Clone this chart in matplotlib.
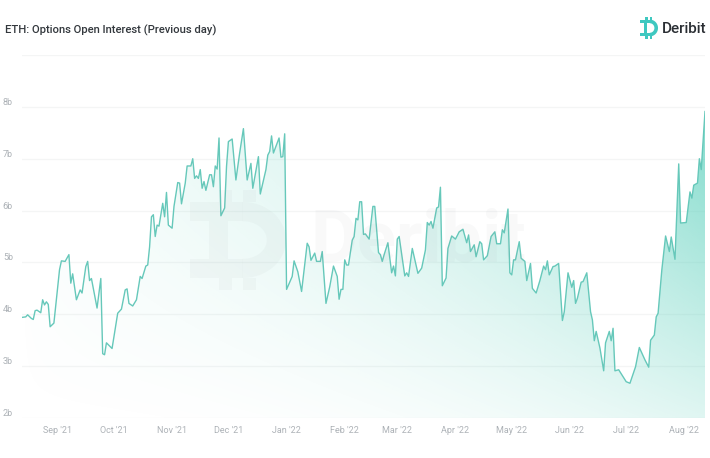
"""ETH options open interest, Deribit style area chart."""
import matplotlib
matplotlib.use("Agg")
import matplotlib.dates as mdates
import matplotlib.pyplot as plt
import numpy as np
import pandas as pd
from matplotlib.patches import Rectangle

START = "2021-08-13"
days = [
    0, 2, 3, 5, 6, 7, 8, 10, 11, 12, 13, 14, 15, 17, 18, 20, 21, 23, 25, 26,
    27, 29, 31, 32, 34, 35, 36, 37, 40, 42, 43, 44, 45, 48, 51, 53, 55, 56, 57, 59,
    61, 63, 64, 66, 67, 68, 69, 70, 71, 72, 73, 75, 76, 77, 78, 80, 81, 83, 84, 85,
    87, 88, 90, 91, 92, 93, 94, 95, 96, 97, 98, 100, 101, 102, 103, 104, 105, 106, 108, 109,
    110, 112, 114, 116, 118, 120, 122, 123, 126, 127, 130, 131, 132, 133, 134, 137, 138, 139, 140, 141,
    144, 145, 147, 149, 152, 153, 154, 156, 157, 159, 160, 162, 164, 166, 168, 169, 170, 171, 172, 173,
    174, 176, 177, 178, 179, 180, 181, 182, 183, 185, 187, 188, 190, 191, 192, 193, 195, 197, 198, 199,
    200, 201, 204, 205, 206, 208, 211, 213, 215, 216, 217, 218, 219, 221, 222, 223, 224, 226, 227, 229,
    231, 233, 235, 237, 238, 239, 241, 242, 244, 245, 246, 248, 250, 252, 253, 255, 256, 257, 259, 260,
    261, 262, 263, 265, 266, 268, 269, 271, 272, 274, 276, 278, 279, 280, 281, 283, 284, 286, 288, 289,
    291, 293, 294, 295, 296, 298, 299, 301, 303, 304, 305, 306, 308, 310, 311, 313, 314, 315, 316, 318,
    322, 324, 327, 329, 332, 334, 335, 337, 338, 339, 341, 343, 345, 346, 348, 350, 351, 354, 356, 357,
    358, 360, 361, 362, 364,
]
open_interest = [
    3.94, 3.95, 3.99, 3.92, 3.90, 4.07, 4.08, 4.03, 4.28, 4.18, 4.24, 4.19, 3.76, 3.83, 4.18, 4.86, 5.03, 5.02, 5.15, 4.60,
    4.78, 4.28, 4.47, 4.41, 4.92, 5.02, 4.65, 4.69, 4.12, 4.69, 3.24, 3.22, 3.45, 3.34, 4.02, 4.10, 4.47, 4.49, 4.21, 4.16,
    4.28, 4.73, 4.69, 4.93, 4.95, 5.30, 5.88, 5.92, 5.50, 5.72, 5.70, 6.14, 5.88, 6.35, 5.72, 5.66, 6.08, 6.54, 6.53, 6.13,
    6.53, 6.86, 6.86, 7.00, 6.62, 6.67, 6.62, 6.79, 6.43, 6.56, 6.39, 6.69, 6.69, 6.46, 6.86, 6.80, 7.40, 5.90, 6.05, 6.85,
    7.33, 7.38, 6.59, 7.11, 7.58, 6.59, 6.91, 6.43, 7.04, 6.32, 6.79, 7.07, 7.14, 7.44, 7.11, 7.40, 7.03, 7.04, 7.48, 4.48,
    4.73, 5.03, 4.82, 4.44, 5.37, 5.30, 5.04, 5.18, 5.02, 5.02, 5.21, 4.21, 4.53, 4.93, 4.73, 4.29, 4.48, 4.48, 5.05, 4.95,
    4.95, 5.43, 5.50, 5.85, 5.82, 6.17, 6.17, 5.54, 5.55, 5.45, 6.08, 6.08, 5.19, 5.15, 5.02, 5.15, 5.38, 4.80, 4.93, 4.74,
    5.45, 5.50, 4.74, 4.80, 4.73, 5.27, 4.79, 4.89, 5.24, 5.77, 5.72, 5.79, 5.66, 6.05, 6.07, 6.45, 4.55, 4.70, 5.27, 5.51,
    5.45, 5.59, 5.64, 5.38, 5.53, 5.21, 5.34, 5.11, 5.40, 5.36, 5.05, 5.13, 5.50, 5.59, 5.36, 5.36, 5.63, 5.57, 6.03, 4.80,
    4.76, 5.05, 5.05, 5.40, 5.08, 5.02, 4.65, 4.98, 4.50, 4.41, 4.65, 4.93, 4.86, 5.03, 4.76, 4.92, 4.93, 4.98, 3.88, 4.05,
    4.80, 4.52, 4.65, 4.21, 4.31, 4.62, 4.63, 4.80, 4.05, 3.89, 3.49, 3.67, 3.35, 2.91, 3.45, 3.67, 3.49, 3.73, 2.91, 2.93,
    2.70, 2.67, 2.99, 3.36, 3.12, 2.98, 3.50, 3.60, 3.95, 4.02, 4.86, 5.51, 5.21, 5.49, 5.06, 6.90, 5.76, 5.77, 6.36, 6.24,
    6.49, 6.53, 7.00, 6.79, 7.91,
]
ytick_values = [2, 3, 4, 5, 6, 7, 8, 9]
ytick_labels = ["2b", "3b", "4b", "5b", "6b", "7b", "8b", ""]

W, H = 710, 458
LINE = "#66c8ba"
GRID = "#f4f5f5"
LABEL = "#adb2b7"


def add_logo(fig, x, y, w, h, color, zorder, alpha=1.0):
    # crude D mark with the two stems, x/y = top left in pixels
    def box(px, py, pw, ph):
        fig.patches.append(Rectangle((px / W, 1 - (py + ph) / H), pw / W, ph / H,
                                     transform=fig.transFigure, facecolor=color,
                                     edgecolor="none", alpha=alpha, zorder=zorder))
    t = 0.2 * w
    body_top = y + 0.12 * h
    body_h = 0.76 * h
    # stems
    for sx in (0.3, 0.55):
        box(x + sx * w, y, 0.14 * w, 0.12 * h)
        box(x + sx * w, y + 0.88 * h, 0.14 * w, 0.12 * h)
    # bars
    box(x, body_top, 0.55 * w, t)
    box(x, body_top + body_h - t, 0.55 * w, t)
    box(x + 0.2 * w, body_top + t, t, body_h - 2 * t)
    # bowl
    th = np.linspace(-np.pi / 2, np.pi / 2, 60)
    cx, cy = x + 0.55 * w, body_top + body_h / 2
    rx_o, ry_o = 0.45 * w, body_h / 2
    rx_i, ry_i = 0.45 * w - t, body_h / 2 - t
    xs = np.r_[cx + rx_o * np.cos(th), cx + rx_i * np.cos(th[::-1])]
    ys = np.r_[cy + ry_o * np.sin(th), cy + ry_i * np.sin(th[::-1])]
    fig.patches.append(plt.Polygon(np.c_[xs / W, 1 - ys / H], closed=True,
                                   transform=fig.transFigure, facecolor=color,
                                   edgecolor="none", alpha=alpha, zorder=zorder))


dates = pd.Timestamp(START) + pd.to_timedelta(days, unit="D")
x = mdates.date2num(dates)

fig = plt.figure(figsize=(W / 100, H / 100), dpi=100, facecolor="white")
ax = fig.add_axes([22 / W, 1 - 418 / H, (705 - 22) / W, (418 - 55) / H])
ax.set_xlim(x[0], x[-1])
ax.set_ylim(2, 9)

# diagonal gradient under the line
gx, gy = np.meshgrid(np.linspace(0, 1, 300), np.linspace(1, 0, 200))
alpha = np.clip(0.5 * gx ** 2.5 * (0.4 + 0.8 * gy) + 0.3 * gy * gx ** 0.5, 0, 1)
rgba = np.zeros(gx.shape + (4,))
rgba[..., :3] = matplotlib.colors.to_rgb("#62d2bf")
rgba[..., 3] = alpha
im = ax.imshow(rgba, extent=(x[0], x[-1], 2, 9), aspect="auto", zorder=1, interpolation="bilinear")
clip = plt.Polygon(np.c_[np.r_[x[0], x, x[-1]], np.r_[2, open_interest, 2]], closed=True,
                   transform=ax.transData, facecolor="none", edgecolor="none")
ax.add_patch(clip)
im.set_clip_path(clip)

ax.plot(x, open_interest, color=LINE, lw=1.0, zorder=3, solid_joinstyle="round")

ax.xaxis.set_major_locator(mdates.MonthLocator())
ax.xaxis.set_major_formatter(mdates.DateFormatter("%b '%y"))
ax.set_yticks(ytick_values)
ax.set_yticklabels(ytick_labels, va="bottom")
ax.tick_params(axis="x", length=0, pad=6, labelsize=6.5, labelcolor=LABEL)
ax.tick_params(axis="y", length=0, pad=6.5, labelsize=6.5, labelcolor=LABEL)
for lab in ax.get_xticklabels() + ax.get_yticklabels():
    lab.set_family("Roboto")
ax.grid(axis="y", color=GRID, lw=0.9, zorder=0)
ax.set_axisbelow(True)
for side in ("top", "right", "left", "bottom"):
    ax.spines[side].set_visible(False)

fig.text(5 / W, 1 - 30 / H, "ETH: Options Open Interest (Previous day)", family="Roboto",
         fontweight="medium", fontsize=8.1, color="#33383d", va="center", ha="left")
fig.text(662 / W, 1 - 29 / H, "Deribit", family="Roboto", fontweight="medium",
         fontsize=11, color="#2a2e33", va="center", ha="left")
add_logo(fig, 640, 17, 18, 22, "#3fc8c0", 5)

# watermark
add_logo(fig, 190, 190, 96, 100, "#8a8f94", 4, alpha=0.05)
fig.text(310 / W, 1 - 262 / H, "Deribit", family="Roboto", fontweight="bold", fontsize=52,
         color="#8a8f94", alpha=0.05, va="baseline", ha="left", zorder=4)

fig.savefig("out.png", dpi=100)
